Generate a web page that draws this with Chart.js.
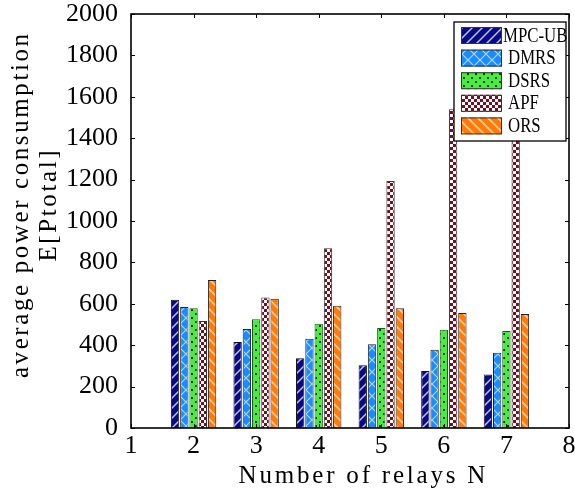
<!DOCTYPE html>
<html>
<head>
<meta charset="utf-8">
<script src="https://cdn.jsdelivr.net/npm/chart.js@4/dist/chart.umd.min.js"></script>
<style>
html,body{margin:0;padding:0;background:#fff;}
#wrap{width:575px;height:491px;}
canvas{display:block;}
</style>
</head>
<body>
<div id="wrap"><canvas id="c" width="575" height="491"></canvas></div>
<script>
// ---- data ----
const relays = [2, 3, 4, 5, 6, 7];
const seriesNames = ['MPC-UB', 'DMRS', 'DSRS', 'APF', 'ORS'];
const mpcUb = [620, 415, 337, 303, 275, 258];
const dmrs  = [584, 478, 431, 404, 378, 364];
const dsrs  = [578, 525, 504, 483, 475, 469];
const apf   = [517, 631, 868, 1193, 1540, 1900];
const ors   = [715, 625, 591, 578, 556, 551];
const xTicks = [1, 2, 3, 4, 5, 6, 7, 8];
const yTicks = [0, 200, 400, 600, 800, 1000, 1200, 1400, 1600, 1800, 2000];
const xTitle = 'Number of relays N';
const yTitle = ['average power consumption', 'E[Ptotal]'];

// ---- patterns ----
const mainCtx = document.getElementById('c').getContext('2d');
function makePattern(w, h, draw) {
  const c = document.createElement('canvas');
  c.width = w; c.height = h;
  const g = c.getContext('2d');
  draw(g, w, h);
  return mainCtx.createPattern(c, 'repeat');
}
function stripes(bg, fg, dir, s, lw) {
  return makePattern(s, s, (g) => {
    g.fillStyle = bg; g.fillRect(0, 0, s, s);
    g.strokeStyle = fg; g.lineWidth = lw; g.lineCap = 'square';
    g.beginPath();
    if (dir === '/') {
      g.moveTo(0, s); g.lineTo(s, 0);
      g.moveTo(-s / 2, s / 2); g.lineTo(s / 2, -s / 2);
      g.moveTo(s / 2, 3 * s / 2); g.lineTo(3 * s / 2, s / 2);
    } else {
      g.moveTo(0, 0); g.lineTo(s, s);
      g.moveTo(-s / 2, s / 2); g.lineTo(s / 2, 3 * s / 2);
      g.moveTo(s / 2, -s / 2); g.lineTo(3 * s / 2, s / 2);
    }
    g.stroke();
  });
}
function cross(bg, fg, s, lw) {
  return makePattern(s, s, (g) => {
    g.fillStyle = bg; g.fillRect(0, 0, s, s);
    g.strokeStyle = fg; g.lineWidth = lw;
    g.beginPath();
    g.moveTo(0, 0); g.lineTo(s, s);
    g.moveTo(0, s); g.lineTo(s, 0);
    g.stroke();
  });
}
function dots(bg, fg, s) {
  return makePattern(s, s, (g) => {
    g.fillStyle = bg; g.fillRect(0, 0, s, s);
    g.fillStyle = fg;
    g.fillRect(Math.round(s / 2) - 1, 1, 2, 2);
    g.fillRect(0, Math.round(s / 2) + 1, 1, 2);
    g.fillRect(s - 1, Math.round(s / 2) + 1, 1, 2);
  });
}
function checker(a, b, q) {
  return makePattern(2 * q, 2 * q, (g) => {
    g.fillStyle = a; g.fillRect(0, 0, 2 * q, 2 * q);
    g.fillStyle = b; g.fillRect(0, 0, q, q); g.fillRect(q, q, q, q);
  });
}
const fills = [
  stripes('#0a0a84', 'rgba(205,215,255,0.9)', '/', 10, 1.5),
  cross('#1a8cff', 'rgba(185,225,255,0.9)', 12, 1.2),
  dots('#46ee3c', '#0a2a0a', 8),
  checker('#7a0c1c', '#ffffff', 3),
  stripes('#ff7b08', 'rgba(255,205,160,0.95)', '\\', 10, 1.8)
];
const borders = ['#111', '#222', '#1c5a1c', '#333', '#222'];
const seriesValues = [mpcUb, dmrs, dsrs, apf, ors];

const datasets = seriesNames.map((name, i) => ({
  label: name,
  data: relays.map((r, k) => ({ x: r, y: seriesValues[i][k] })),
  backgroundColor: fills[i],
  borderColor: borders[i],
  borderWidth: 1,
  borderSkipped: 'bottom'
}));

function spacedText(ctx, text, cx, cy, rot, size, spacing) {
  ctx.save();
  ctx.translate(cx, cy);
  ctx.rotate(rot);
  ctx.font = size + 'px "Liberation Serif"';
  ctx.letterSpacing = spacing + 'px';
  ctx.fillStyle = '#000';
  ctx.textAlign = 'left';
  ctx.textBaseline = 'alphabetic';
  const w = ctx.measureText(text).width - spacing;
  ctx.fillText(text, -w / 2, 0);
  ctx.restore();
}

// ---- frame, ticks, axis titles and legend ----
const framePlugin = {
  id: 'frame',
  afterDatasetsDraw(chart) {
    const { ctx, chartArea: a, scales: { x, y } } = chart;
    ctx.save();
    ctx.strokeStyle = '#000';
    ctx.lineWidth = 1;
    ctx.beginPath();
    yTicks.forEach(v => {
      const p = Math.round(y.getPixelForValue(v)) + 0.5;
      ctx.moveTo(a.left, p); ctx.lineTo(a.left + 4, p);
      ctx.moveTo(a.right, p); ctx.lineTo(a.right - 4, p);
    });
    xTicks.forEach(v => {
      const p = Math.round(x.getPixelForValue(v)) + 0.5;
      ctx.moveTo(p, a.bottom); ctx.lineTo(p, a.bottom - 4);
      ctx.moveTo(p, a.top); ctx.lineTo(p, a.top + 4);
    });
    ctx.stroke();
    ctx.lineWidth = 1.6;
    ctx.strokeRect(a.left, a.top, a.right - a.left, a.bottom - a.top);
    ctx.restore();
  },
  afterDraw(chart) {
    const { ctx, chartArea: a } = chart;
    // axis titles
    spacedText(ctx, xTitle, 362, 483, 0, 25, 2.8);
    spacedText(ctx, yTitle[0], 28, 206, -Math.PI / 2, 25, 2.6);
    spacedText(ctx, yTitle[1], 56, 206, -Math.PI / 2, 25, 2.6);
    // legend
    const bw = 112, bh = 119;
    const bx = a.right - 3 - bw, by = a.top + 8;
    ctx.save();
    ctx.fillStyle = '#fff';
    ctx.fillRect(bx, by, bw, bh);
    ctx.strokeStyle = '#000';
    ctx.lineWidth = 1.3;
    ctx.strokeRect(bx, by, bw, bh);
    chart.data.datasets.forEach((ds, i) => {
      const sy = by + 5 + i * 22.6;
      const sx = bx + 7;
      ctx.fillStyle = ds.backgroundColor;
      ctx.fillRect(sx, sy, 41, 17);
      ctx.lineWidth = 1;
      ctx.strokeStyle = '#333';
      ctx.strokeRect(sx + 0.5, sy + 0.5, 40, 16);
      ctx.save();
      ctx.fillStyle = '#000';
      ctx.font = '21px "Liberation Serif"';
      ctx.textBaseline = 'middle';
      ctx.textAlign = 'left';
      const tx = i === 0 ? sx + 42 : sx + 47;
      ctx.translate(tx, sy + 9);
      ctx.scale(0.8, 1);
      ctx.fillText(ds.label, 0, 0);
      ctx.restore();
    });
    ctx.restore();
  }
};

new Chart(document.getElementById('c'), {
  type: 'bar',
  data: { datasets },
  options: {
    responsive: false,
    animation: false,
    devicePixelRatio: 1,
    layout: { padding: { left: 0, right: 6, top: 14, bottom: 0 } },
    datasets: { bar: { categoryPercentage: 0.74, barPercentage: 0.9 } },
    plugins: { legend: { display: false }, tooltip: { enabled: false } },
    scales: {
      x: {
        type: 'linear', min: 1, max: 8, offset: false,
        grid: { display: false, drawTicks: false },
        border: { display: false },
        afterBuildTicks: s => { s.ticks = xTicks.map(v => ({ value: v })); },
        afterFit: s => { s.height = 63; s.paddingLeft = 0; s.paddingRight = 0; },
        ticks: {
          color: '#000', padding: 5, maxRotation: 0, autoSkip: false,
          callback: v => String(v),
          font: { family: 'Liberation Serif', size: 26, lineHeight: 1.0 }
        },
        title: { display: false }
      },
      y: {
        min: 0, max: 2000,
        grid: { display: false, drawTicks: false },
        border: { display: false },
        afterBuildTicks: s => { s.ticks = yTicks.map(v => ({ value: v })); },
        afterFit: s => { s.width = 131; s.paddingTop = 0; s.paddingBottom = 0; },
        ticks: {
          color: '#000', padding: 13,
          callback: v => String(v),
          font: { family: 'Liberation Serif', size: 26, lineHeight: 1.0 }
        },
        title: { display: false }
      }
    }
  },
  plugins: [framePlugin]
});
</script>
</body>
</html>
